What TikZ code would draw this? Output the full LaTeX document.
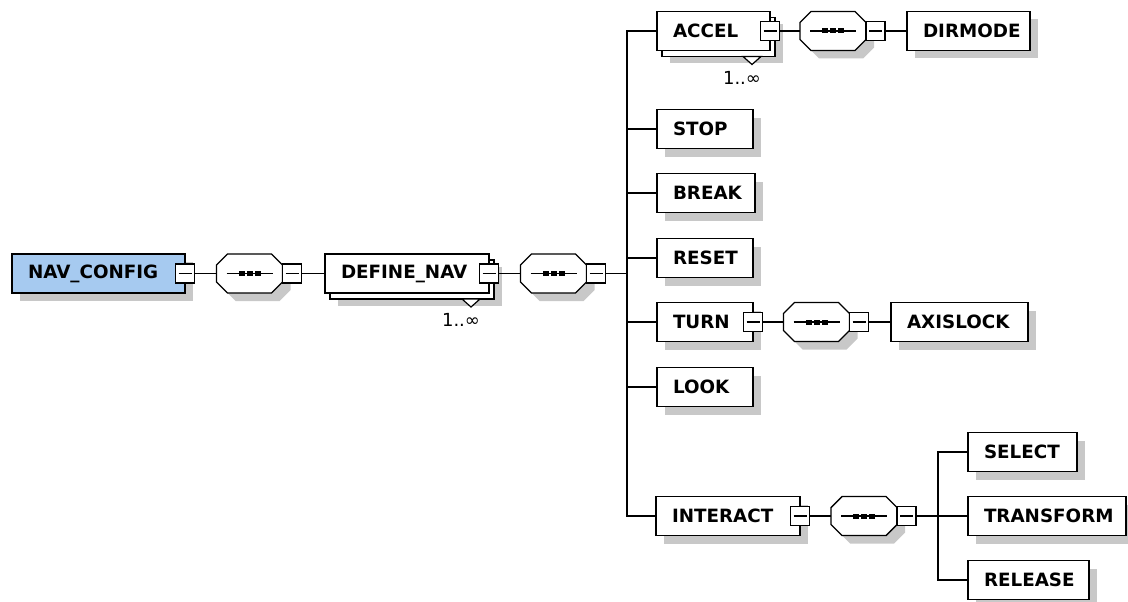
\documentclass[tikz,border=0pt]{standalone}
\usepackage{fontspec}
\setmainfont{DejaVu Sans}
\usetikzlibrary{shadows,calc}
\definecolor{rootblue}{RGB}{166,202,240}
\definecolor{shade}{RGB}{200,200,200}
\tikzset{
  boxbase/.style={draw, line width=1.6pt, fill=white, anchor=west, minimum height=39pt,
    inner ysep=0pt, inner xsep=16pt, outer sep=0pt, text width=#1pt, align=left,
    font=\fontsize{18.3}{22}\selectfont\bfseries},
  elem/.style={boxbase=#1, drop shadow={shadow xshift=8pt, shadow yshift=-8pt, fill=shade, opacity=1, draw=none}},
  multielem/.style={boxbase=#1, drop shadow={shadow xshift=13pt, shadow yshift=-13pt, fill=shade, opacity=1, draw=none},
    copy shadow={shadow xshift=5pt, shadow yshift=-6pt, draw=black, fill=white, line width=1.6pt}},
  minusbox/.style={draw, line width=1.2pt, fill=white, minimum width=19pt, minimum height=19pt,
    inner sep=0pt, outer sep=0pt,
    path picture={\draw[line width=1.2pt] ([xshift=3pt]path picture bounding box.west) -- ([xshift=-3pt]path picture bounding box.east);}},
  seqbox/.style={rectangle, minimum width=66pt, minimum height=39pt, inner sep=0pt, outer sep=0pt},
  conn/.style={line width=1.6pt},
  multlabel/.style={font=\fontsize{18}{20}\selectfont, inner sep=0pt},
}
\newcommand\seqnode[3]{%
  \node[seqbox] (#1) at (#2,#3) {};
  \path[draw, fill=white, line width=1.4pt,
    drop shadow={shadow xshift=8pt, shadow yshift=-8pt, fill=shade, opacity=1, draw=none}]
    ($(#1.north west)+(11,0)$) -- ($(#1.north east)+(-11,0)$) -- ($(#1.north east)+(0,11)$)
    -- ($(#1.south east)+(0,-11)$) -- ($(#1.south east)+(-11,0)$) -- ($(#1.south west)+(11,0)$)
    -- ($(#1.south west)+(0,-11)$) -- ($(#1.north west)+(0,11)$) -- cycle;
  \draw[line width=1.4pt] ($(#1.west)+(10,0)$) -- ($(#1.east)+(-10,0)$);
  \foreach \d in {-8,0,8} \fill ($(#1.center)+(\d-3,-2.5)$) rectangle ++(6,5);
  \node[minusbox, anchor=west] (#1m) at (#1.east) {};
}
\newcommand\multmark[1]{%
  \filldraw[fill=white, line width=1.2pt] ($(#1.south east)+(-27,6)$) -- ++(9,8) -- ++(9,-8) -- cycle;
  \node[multlabel] at ($(#1.south east)+(-28,27)$) {1..∞};
}
\begin{document}
\uchyph=0 \hyphenpenalty=10000 \exhyphenpenalty=10000
\begin{tikzpicture}[x=1pt, y=-1pt]
\fill[white] (0,0) rectangle (1128,602);
\useasboundingbox (0,0) rectangle (1128,602);

% elements
\node[elem=141, fill=rootblue] (nav) at (12,273.5) {NAV\_CONFIG};
\node[multielem=132] (def) at (325,273.5) {DEFINE\_NAV};
\node[multielem=81] (accel) at (657,31) {ACCEL};
\node[elem=91] (dirmode) at (907,31) {DIRMODE};
\node[elem=64] (stop) at (657,129) {STOP};
\node[elem=66] (brk) at (657,193) {BREAK};
\node[elem=64] (reset) at (657,258) {RESET};
\node[elem=64] (turn) at (657,322) {TURN};
\node[elem=105] (axis) at (891,322) {AXISLOCK};
\node[elem=64] (look) at (657,387) {LOOK};
\node[elem=112] (interact) at (656,516) {INTERACT};
\node[elem=77] (select) at (968,452) {SELECT};
\node[elem=126] (transform) at (968,516) {TRANSFORM};
\node[elem=89] (release) at (968,580) {RELEASE};

\multmark{def}
\multmark{accel}

% expand boxes
\node[minusbox] (navm) at (nav.east) {};
\node[minusbox] (defm) at (def.east) {};
\node[minusbox] (accelm) at (accel.east) {};
\node[minusbox] (turnm) at (turn.east) {};
\node[minusbox] (interm) at (interact.east) {};

% sequences
\seqnode{sa}{249.5}{273.5}
\seqnode{sb}{553.5}{273.5}
\seqnode{sc}{833}{31}
\seqnode{sd}{816.5}{322}
\seqnode{se}{864}{516}

% connectors
\draw[conn] (navm.east) -- (sa.west);
\draw[conn] (sam.east) -- (def.west);
\draw[conn] (defm.east) -- (sb.west);
\coordinate (busa) at (627,273.5);
\draw[conn] (sbm.east) -- (busa);
\foreach \c in {accel,stop,brk,reset,turn,look,interact} \draw[conn] (busa) |- (\c.west);
\draw[conn] (accelm.east) -- (sc.west);
\draw[conn] (scm.east) -- (dirmode.west);
\draw[conn] (turnm.east) -- (sd.west);
\draw[conn] (sdm.east) -- (axis.west);
\draw[conn] (interm.east) -- (se.west);
\coordinate (busb) at (938,516);
\draw[conn] (sem.east) -- (busb);
\foreach \c in {select,transform,release} \draw[conn] (busb) |- (\c.west);
\end{tikzpicture}
\end{document}
